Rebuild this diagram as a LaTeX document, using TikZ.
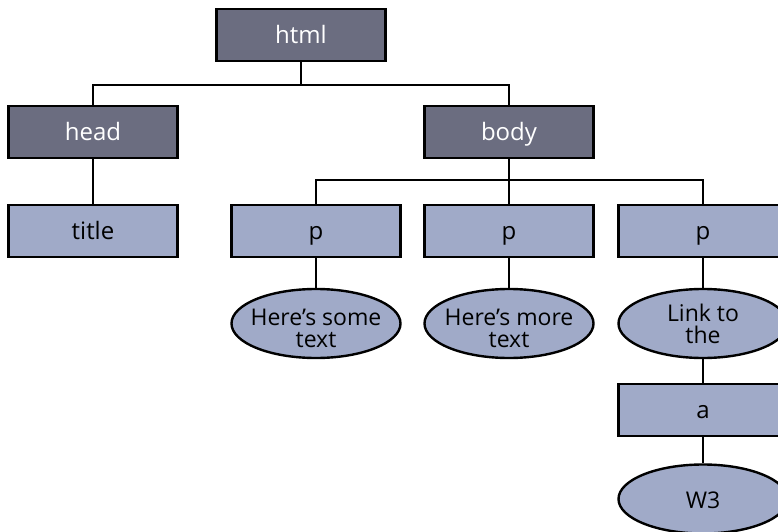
\documentclass[tikz,border=0pt]{standalone}
\usepackage{fontspec}
\setmainfont{Open Sans}
\usetikzlibrary{shapes.geometric}
\definecolor{tagdark}{RGB}{107,109,128}
\definecolor{taglight}{RGB}{160,170,200}

\begin{document}
\begin{tikzpicture}[x=1pt,y=-1pt,line width=2.4pt,
  darkbox/.style={draw=black,fill=tagdark,text=white,minimum width=169pt,minimum height=52pt,inner sep=0pt,text height=17pt,text depth=0pt,font=\fontsize{24}{26}\selectfont},
  lightbox/.style={darkbox,fill=taglight,text=black},
  leafoval/.style={ellipse,draw=black,fill=taglight,text=black,minimum width=169pt,minimum height=69pt,inner sep=-8pt,align=center,text height=47pt,text depth=0pt,font=\fontsize{23}{22}\selectfont}]
\useasboundingbox (0,0) rectangle (778,532);
\clip (0,0) rectangle (778,532);
% element boxes
\node[darkbox] (html) at (301,35) {html};
\node[darkbox] (head) at (93,132) {head};
\node[darkbox] (body) at (509,132) {body};
\node[lightbox] (title) at (93,231) {title};
\node[lightbox] (p1) at (316,231) {p};
\node[lightbox] (p2) at (509,231) {p};
\node[lightbox] (p3) at (703,231) {p};
\node[lightbox] (a) at (703,410) {a};
% text leaves
\node[leafoval] (some) at (316,323.5) {Here’s some\\text};
\node[leafoval] (more) at (509,323.5) {Here’s more\\text};
\node[leafoval,text height=39pt] (link) at (703,323.5) {Link to\\the};
\node[leafoval,text height=18pt] (w3) at (703,499) {W3};
% tree connectors
\draw (html.south) -- ++(0,23) -| (head.north);
\draw (html.south) -- ++(0,23) -| (body.north);
\draw (head) -- (title);
\draw (body.south) -- ++(0,21) -| (p1.north);
\draw (body) -- (p2);
\draw (body.south) -- ++(0,21) -| (p3.north);
\draw (p1) -- (some);
\draw (p2) -- (more);
\draw (p3) -- (link);
\draw (link) -- (a);
\draw (a) -- (w3);
\end{tikzpicture}
\end{document}
